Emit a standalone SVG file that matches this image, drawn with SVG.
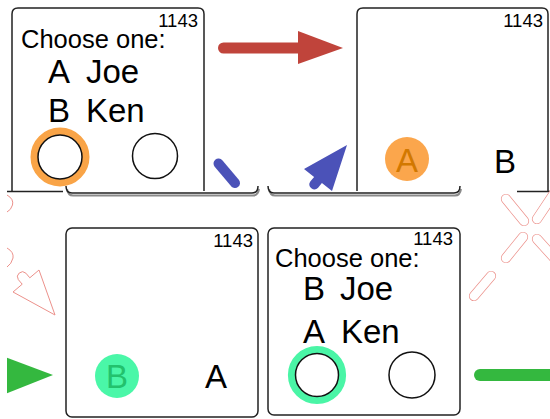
<svg xmlns="http://www.w3.org/2000/svg" width="550" height="419" viewBox="0 0 550 419">
  <defs>
    <clipPath id="stage">
      <rect x="7" y="0" width="543" height="419"/>
    </clipPath>
    <style>
      text { font-family: "Liberation Sans", Arial, sans-serif; fill: #000; }
      .frame { fill: #fff; stroke: #222; stroke-width: 1.5; }
      .edge { fill: none; stroke: #222; stroke-width: 1.5; }
      .edge-shadow { fill: none; stroke: #8a8a8a; stroke-width: 2; }
      .num { font-size: 18.5px; text-anchor: end; }
      .prompt { font-size: 25.5px; }
      .opt { font-size: 33px; }
      .mid { text-anchor: middle; }
      .slot { fill: #fff; stroke: #111; stroke-width: 1.5; }
      .ghost { fill: none; stroke: #ec918b; stroke-width: 1; }
      .cap-out { stroke: #ec918b; stroke-width: 10.2; stroke-linecap: round; }
      .cap-in { stroke: #fff; stroke-width: 8.8; stroke-linecap: round; }
    </style>
  </defs>

  <rect width="550" height="419" fill="#fff"/>

  <g clip-path="url(#stage)">
    <!-- top-left card: question with option A highlighted -->
    <g id="panel-1">
      <path class="frame" d="M12,191 L12,14 Q12,8 18,8 L198,8 Q204,8 204,14 L204,191"/>
      <text class="num" x="198" y="27">1143</text>
      <text class="prompt" x="21" y="48">Choose one:</text>
      <text class="opt" y="83"><tspan x="48">A</tspan><tspan x="86">Joe</tspan></text>
      <text class="opt" y="122"><tspan x="48">B</tspan><tspan x="86">Ken</tspan></text>
      <circle cx="60" cy="157" r="25.7" fill="none" stroke="#f9a447" stroke-width="7.6"/>
      <circle class="slot" cx="60" cy="157" r="22"/>
      <circle class="slot" cx="155" cy="156" r="22.5"/>
    </g>

    <!-- top-right card: answer A chosen -->
    <g id="panel-2">
      <path class="frame" d="M357,191 L357,14 Q357,8 363,8 L542,8 Q548,8 548,14 L548,191"/>
      <text class="num" x="543" y="27">1143</text>
      <circle cx="407" cy="159" r="22" fill="#fba64c"/>
      <text class="opt mid" x="407" y="172" style="fill:#d27800">A</text>
      <text class="opt mid" x="505" y="173">B</text>
    </g>

    <!-- bottom edges of the lower row cards -->
    <g id="edges">
      <line class="edge" x1="7" y1="191.5" x2="63" y2="191.5"/>
      <line class="edge" x1="517" y1="191.5" x2="550" y2="191.5"/>
      <path class="edge-shadow" d="M67,189 Q68,195.5 73,195.5 L253,195.5 Q258,195.5 259,189"/>
      <path class="edge" d="M66,186 Q66,193 72,193 L252,193 Q258,193 258,186"/>
      <path class="edge-shadow" d="M269,189 Q270,195.5 275,195.5 L455,195.5 Q460,195.5 461,189"/>
      <path class="edge" d="M268,186 Q268,193 274,193 L454,193 Q460,193 460,186"/>
    </g>

    <!-- bottom-left card: answer B chosen -->
    <g id="panel-3">
      <rect class="frame" x="66" y="228" width="192" height="189" rx="6"/>
      <text class="num" x="253" y="247">1143</text>
      <circle cx="117" cy="376" r="22" fill="#4af7a8"/>
      <text class="opt mid" x="117" y="388" style="fill:#22c26c">B</text>
      <text class="opt mid" x="216" y="388">A</text>
    </g>

    <!-- bottom-right card: question with labels swapped -->
    <g id="panel-4">
      <rect class="frame" x="268" y="228" width="192" height="187" rx="6"/>
      <text class="num" x="453" y="245">1143</text>
      <text class="prompt" x="275" y="267">Choose one:</text>
      <text class="opt" y="300"><tspan x="303">B</tspan><tspan x="340">Joe</tspan></text>
      <text class="opt" y="343"><tspan x="303">A</tspan><tspan x="341">Ken</tspan></text>
      <circle cx="317" cy="375" r="25.3" fill="none" stroke="#4af5a6" stroke-width="7.6"/>
      <circle class="slot" cx="317" cy="375" r="21.5"/>
      <circle class="slot" cx="412" cy="375" r="23"/>
    </g>

    <g id="connectors">
      <!-- red arrow between the top cards -->
      <line x1="223.5" y1="48" x2="300" y2="48" stroke="#c0443b" stroke-width="11" stroke-linecap="round"/>
      <polygon points="298,31 343,48 298,64" fill="#c0443b"/>

      <!-- blue stroke and pointer -->
      <line x1="218.5" y1="163.5" x2="235" y2="183" stroke="#4b52b8" stroke-width="10" stroke-linecap="round"/>
      <path fill="#4b52b8" d="M347,145 L332,191 L321.9,183.1 L318.1,187.7 A5,5 0 0 1 310.3,181.5 L314.1,176.9 L304,169 Z"/>

      <!-- faint outlines -->
      <path class="ghost" d="M7,195 Q14,199 12.5,205 Q11,210 7,212"/>
      <path class="ghost" d="M7,248 Q14,252 13,258 Q11.5,264 7,267"/>
      <path class="ghost" d="M55,315 L39,270 L29.8,277.8 L25.9,273.2 A5,5 0 0 0 18.3,279.6 L22.2,284.2 L13,292 Z"/>
      <line class="cap-out" x1="506" y1="199" x2="524" y2="221"/>
      <line class="cap-in" x1="506" y1="199" x2="524" y2="221"/>
      <line class="cap-out" x1="555" y1="192" x2="537" y2="219"/>
      <line class="cap-in" x1="555" y1="192" x2="537" y2="219"/>
      <line class="cap-out" x1="523" y1="237" x2="506" y2="258"/>
      <line class="cap-in" x1="523" y1="237" x2="506" y2="258"/>
      <line class="cap-out" x1="537" y1="239" x2="556" y2="260"/>
      <line class="cap-in" x1="537" y1="239" x2="556" y2="260"/>
      <line class="cap-out" x1="491" y1="276" x2="474" y2="296"/>
      <line class="cap-in" x1="491" y1="276" x2="474" y2="296"/>

      <!-- green arrowhead and bar -->
      <polygon points="0,355 53,375 0,396" fill="#34b83f"/>
      <line x1="480" y1="375" x2="560" y2="375" stroke="#34b83f" stroke-width="12" stroke-linecap="round"/>
    </g>
  </g>
</svg>
